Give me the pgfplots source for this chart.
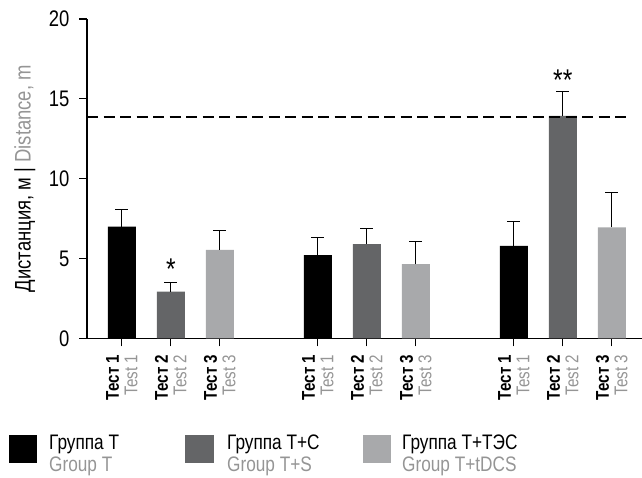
\documentclass[border=0pt]{standalone}
\usepackage{pgfplots}
\pgfplotsset{compat=1.18}
\usepackage{fontspec}
\setmainfont{Liberation Sans}[FakeStretch=0.82]
\definecolor{dgray}{HTML}{646567}
\definecolor{lgray}{HTML}{A8A9AB}
\definecolor{tgray}{HTML}{959595}
\newcommand{\tl}[1]{{\bfseries Тест #1}\\\textcolor{tgray}{Test #1}}
\begin{document}
\begin{tikzpicture}
\path[use as bounding box] (0,0) rectangle (642pt,-478pt);
\begin{axis}[
  at={(87pt,-338.3pt)}, anchor=south west,
  scale only axis, x=49pt, y=15.97pt,
  xmin=-0.71, xmax=10.61, ymin=0, ymax=20,
  axis x line=bottom, axis y line=left,
  axis line style={-, line width=1.3pt, black},
  ytick={0,5,10,15,20},
  yticklabel={\pgfmathprintnumber[assume math mode=true]{\tick}},
  xtick={0,1,2,4,5,6,8,9,10},
  xticklabels={{\tl1},{\tl2},{\tl3},{\tl1},{\tl2},{\tl3},{\tl1},{\tl2},{\tl3}},
  tick align=outside, major tick length=8pt,
  tick style={line width=1.3pt, black},
  yticklabel style={font=\fontsize{22.5}{24}\selectfont, xshift=-6pt},
  x tick label style={rotate=90, anchor=east, align=right, font=\fontsize{18.5}{18.5}\selectfont},
  xticklabel shift=5pt,
  ylabel={Дистанция, м | \textcolor{tgray}{Distance, m}},
  ylabel style={font=\fontsize{22.5}{24}\selectfont, at={(axis description cs:-0.112,0.5)}, anchor=center},
  clip=false,
]
\addplot[ybar, bar width=28pt, bar shift=0pt, fill=black, draw=none,
  error bars/.cd, y dir=plus, y explicit,
  error bar style={draw=black, line width=1.3pt},
  error mark options={rotate=90, draw=black, line width=1.3pt, mark size=6.5pt}]
  coordinates {(0,7.0) +- (0,1.05) (4,5.21) +- (0,1.12) (8,5.78) +- (0,1.52)};
\addplot[ybar, bar width=28pt, bar shift=0pt, fill=dgray, draw=none,
  error bars/.cd, y dir=plus, y explicit,
  error bar style={draw=black, line width=1.3pt},
  error mark options={rotate=90, draw=black, line width=1.3pt, mark size=6.5pt}]
  coordinates {(1,2.92) +- (0,0.56) (5,5.9) +- (0,0.99) (9,13.92) +- (0,1.52)};
\addplot[ybar, bar width=28pt, bar shift=0pt, fill=lgray, draw=none,
  error bars/.cd, y dir=plus, y explicit,
  error bar style={draw=black, line width=1.3pt},
  error mark options={rotate=90, draw=black, line width=1.3pt, mark size=6.5pt}]
  coordinates {(2,5.53) +- (0,1.21) (6,4.65) +- (0,1.4) (10,6.95) +- (0,2.19)};
\addplot[black, line width=2.4pt, dash pattern=on 11pt off 5.5pt] coordinates {(-0.71,13.86) (10.31,13.86)};
\node[font=\fontsize{30}{30}\selectfont, anchor=base, yshift=-17pt] at (axis cs:1,4.72) {*};
\node[font=\fontsize{30}{30}\selectfont, anchor=base, yshift=-17pt] at (axis cs:9,16.55) {**};
\end{axis}
\begin{scope}[font=\fontsize{21}{22}\selectfont]
\fill[black] (9pt,-435pt) rectangle (37pt,-463pt);
\node[anchor=north west, align=left, inner sep=0] at (49pt,-435pt) {Группа Т\\\textcolor{tgray}{Group T}};
\fill[dgray] (185pt,-435pt) rectangle (214pt,-463pt);
\node[anchor=north west, align=left, inner sep=0] at (227pt,-435pt) {Группа Т+С\\\textcolor{tgray}{Group T+S}};
\fill[lgray] (363pt,-435pt) rectangle (391pt,-463pt);
\node[anchor=north west, align=left, inner sep=0] at (402pt,-435pt) {Группа Т+ТЭС\\\textcolor{tgray}{Group T+tDCS}};
\end{scope}
\end{tikzpicture}
\end{document}
